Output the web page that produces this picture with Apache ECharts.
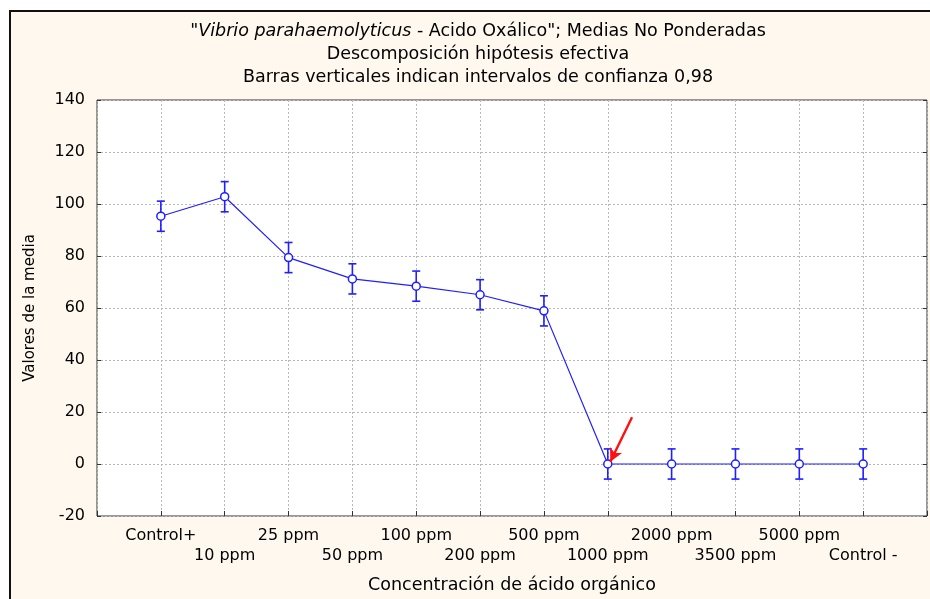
<!DOCTYPE html>
<html>
<head>
<meta charset="utf-8">
<script src="https://cdn.jsdelivr.net/npm/echarts@6/dist/echarts.min.js"></script>
<style>
  html, body { margin: 0; padding: 0; background: #ffffff; }
  #chart { width: 930px; height: 599px; }
</style>
</head>
<body>
<div id="chart"></div>
<script>
// categorias del eje x (posicion 1..12)
const categories = ['Control+', '10 ppm', '25 ppm', '50 ppm', '100 ppm', '200 ppm',
  '500 ppm', '1000 ppm', '2000 ppm', '3500 ppm', '5000 ppm', 'Control -'];
// medias
const means = [95.3, 102.8, 79.4, 71.2, 68.4, 65.1, 58.9, 0, 0, 0, 0, 0];
// semiamplitud del intervalo de confianza 0,98
const errHalf = [5.8, 5.8, 5.8, 5.8, 5.8, 5.8, 5.8, 5.8, 5.8, 5.8, 5.8, 5.8];
const yTicks = [-20, 0, 20, 40, 60, 80, 100, 120, 140];
// flecha roja (coordenadas de datos)
const arrowFrom = [8.38, 18.0];
const arrowTo = [8.04, 0.9];

const blue = '#1f1fff';
const font = 'DejaVu Sans, Verdana, sans-serif';

const lineData = means.map((m, i) => [i + 1, m]);
const errData = means.map((m, i) => [i + 1, m - errHalf[i], m + errHalf[i]]);

const chart = echarts.init(document.getElementById('chart'));

const option = {
  animation: false,
  backgroundColor: '#ffffff',
  graphic: [
    {
      type: 'rect',
      z: -10,
      shape: { x: 10, y: 11, width: 940, height: 620 },
      style: { fill: '#fff8ee', stroke: '#111111', lineWidth: 2 }
    }
  ],
  title: {
    left: 473,
    top: 15,
    textAlign: 'center',
    text: '{n|"}{i|Vibrio parahaemolyticus}{n| - Acido Oxálico"; Medias No Ponderadas}\n' +
      '{n|Descomposición hipótesis efectiva}\n' +
      '{n|Barras verticales indican intervalos de confianza 0,98}',
    textStyle: {
      align: 'center',
      fontWeight: 'normal',
      rich: {
        n: { fontFamily: font, fontSize: 17.5, fontWeight: 'normal', color: '#000', lineHeight: 23 },
        i: { fontFamily: font, fontSize: 17.5, fontWeight: 'normal', fontStyle: 'italic', color: '#000', lineHeight: 23 }
      }
    }
  },
  grid: {
    left: 97, top: 100, right: 3, bottom: 83,
    show: true,
    backgroundColor: '#ffffff',
    borderColor: '#333333',
    borderWidth: 1
  },
  xAxis: {
    type: 'value',
    min: 0, max: 13, interval: 1,
    name: 'Concentración de ácido orgánico',
    nameLocation: 'middle',
    nameGap: 60,
    nameTextStyle: { fontFamily: font, fontSize: 17.5, color: '#000' },
    axisLine: { show: false, onZero: false },
    axisTick: { show: true, inside: true, length: 5, lineStyle: { color: '#333' } },
    splitLine: { show: true, lineStyle: { color: '#b8b8b8', type: [2, 2] } },
    axisLabel: {
      margin: 10,
      fontFamily: font, fontSize: 16, color: '#000', lineHeight: 20,
      showMinLabel: true, showMaxLabel: true,
      formatter: function (v) {
        const idx = Math.round(v) - 1;
        if (idx < 0 || idx >= categories.length) return '';
        return idx % 2 === 0 ? categories[idx] : '\n' + categories[idx];
      }
    }
  },
  yAxis: [
    {
      type: 'value',
      min: yTicks[0], max: yTicks[yTicks.length - 1], interval: 20,
      name: 'Valores de la media',
      nameLocation: 'middle',
      nameGap: 59,
      nameTextStyle: { fontFamily: font, fontSize: 15, color: '#000' },
      axisLine: { show: false, onZero: false },
      axisTick: { show: true, inside: true, length: 4, lineStyle: { color: '#333' } },
      splitLine: { show: true, lineStyle: { color: '#b8b8b8', type: [2, 2] } },
      axisLabel: { margin: 12, fontFamily: font, fontSize: 16, color: '#000' }
    },
    {
      type: 'value', position: 'right',
      min: yTicks[0], max: yTicks[yTicks.length - 1], interval: 20,
      axisLine: { show: false, onZero: false },
      axisTick: { show: true, inside: true, length: 4, lineStyle: { color: '#333' } },
      splitLine: { show: false },
      axisLabel: { show: false }
    }
  ],
  series: [
    {
      type: 'custom',
      name: 'IC',
      data: errData,
      z: 3,
      renderItem: function (params, api) {
        const x = api.value(0);
        const lo = api.coord([x, api.value(1)]);
        const hi = api.coord([x, api.value(2)]);
        const cap = 4;
        const st = { stroke: blue, lineWidth: 1.6 };
        return {
          type: 'group',
          children: [
            { type: 'line', shape: { x1: lo[0], y1: lo[1], x2: hi[0], y2: hi[1] }, style: st },
            { type: 'line', shape: { x1: lo[0] - cap, y1: lo[1], x2: lo[0] + cap, y2: lo[1] }, style: st },
            { type: 'line', shape: { x1: hi[0] - cap, y1: hi[1], x2: hi[0] + cap, y2: hi[1] }, style: st }
          ]
        };
      }
    },
    {
      type: 'line',
      name: 'Media',
      data: lineData,
      z: 4,
      symbol: 'circle',
      symbolSize: 8,
      itemStyle: { color: '#ffffff', borderColor: blue, borderWidth: 1.5 },
      lineStyle: { color: blue, width: 1.2 },
      markLine: {
        silent: true,
        symbol: ['none', 'arrow'],
        symbolSize: [10, 13],
        label: { show: false },
        lineStyle: { color: '#ff1010', width: 2.4, type: 'solid' },
        data: [[{ coord: arrowFrom }, { coord: arrowTo }]]
      }
    }
  ]
};

chart.setOption(option);
</script>
</body>
</html>
